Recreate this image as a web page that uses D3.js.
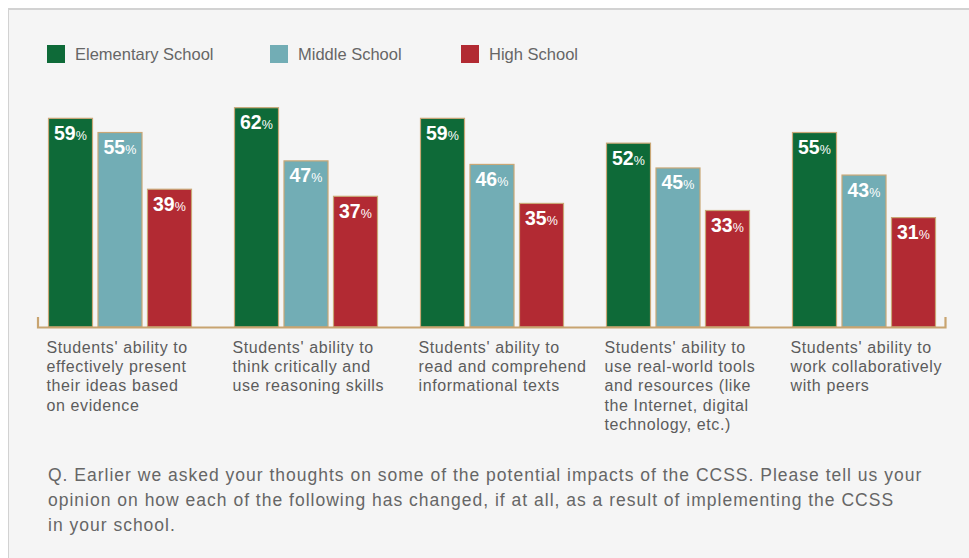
<!DOCTYPE html>
<html>
<head>
<meta charset="utf-8">
<script src="https://cdn.jsdelivr.net/npm/d3@7/dist/d3.min.js"></script>
<style>
  html, body { margin: 0; padding: 0; background: #ffffff; }
  svg { display: block; }
  text { font-family: "Liberation Sans", Arial, sans-serif; }
</style>
</head>
<body>
<svg id="chart" width="969" height="558"></svg>
<script>
// Survey results: share of respondents reporting improvement, by school level
const categories = [
  "Students' ability to|effectively present|their ideas based|on evidence",
  "Students' ability to|think critically and|use reasoning skills",
  "Students' ability to|read and comprehend|informational texts",
  "Students' ability to|use real-world tools|and resources (like|the Internet, digital|technology, etc.)",
  "Students' ability to|work collaboratively|with peers"
];
const seriesNames = ["Elementary School", "Middle School", "High School"];
const elementary = [59, 62, 59, 52, 55];
const middle = [55, 47, 46, 45, 43];
const high = [39, 37, 35, 33, 31];
const footnoteLines = [
  "Q. Earlier we asked your thoughts on some of the potential impacts of the CCSS. Please tell us your",
  "opinion on how each of the following has changed, if at all, as a result of implementing the CCSS",
  "in your school."
];

const seriesValues = [elementary, middle, high];
const colors = ["#0e6a38", "#72adb5", "#b22a33"];
const barStroke = "#c9a776";
const axisColor = "#c8a470";
const textColor = "#5c5c5c";

const svg = d3.select("#chart");

// Panel background
svg.append("rect").attr("x", 8).attr("y", 8).attr("width", 980).attr("height", 570)
  .attr("fill", "#f5f5f5");
svg.append("line").attr("x1", 8).attr("x2", 969).attr("y1", 9).attr("y2", 9)
  .attr("stroke", "#d2d2d2").attr("stroke-width", 2);
svg.append("line").attr("x1", 8.5).attr("x2", 8.5).attr("y1", 8).attr("y2", 558)
  .attr("stroke", "#d2d2d2").attr("stroke-width", 1);

// Scales
const x0 = d3.scaleBand().domain(d3.range(categories.length))
  .range([48, 936]).paddingInner(42 / 186).paddingOuter(0);
const x1 = d3.scaleBand().domain(d3.range(seriesNames.length))
  .range([0, x0.bandwidth()]).paddingInner(4.5 / 49.5).paddingOuter(0);
const y = d3.scaleLinear().domain([0, 100]).range([327, -27.5]);

// Legend
const legendX = [47, 270, 461];
const legend = svg.append("g");
seriesNames.forEach((name, i) => {
  legend.append("rect").attr("x", legendX[i]).attr("y", 45).attr("width", 18).attr("height", 18)
    .attr("fill", colors[i]);
  legend.append("text").attr("x", legendX[i] + 28).attr("y", 60)
    .attr("font-size", 16.5).attr("fill", "#666").text(name);
});

// Bars
const groups = svg.append("g").selectAll("g")
  .data(categories).join("g")
  .attr("transform", (d, i) => `translate(${x0(i)},0)`);

groups.each(function (cat, ci) {
  const g = d3.select(this);
  seriesValues.forEach((vals, si) => {
    const v = vals[ci];
    const bx = x1(si);
    g.append("rect")
      .attr("x", bx + 0.5).attr("y", y(v) + 0.5)
      .attr("width", x1.bandwidth() - 1).attr("height", y(0) - y(v) - 0.5)
      .attr("fill", colors[si]).attr("stroke", barStroke).attr("stroke-width", 1.2);
    const t = g.append("text").attr("x", bx + 6).attr("y", y(v) + 22)
      .attr("fill", "#fff").attr("font-weight", "bold");
    t.append("tspan").attr("font-size", 19.5).text(v);
    t.append("tspan").attr("font-size", 12.5).attr("font-weight", "normal").text("%");
  });
});

// Baseline axis with end ticks
const axis = svg.append("g").attr("fill", "none").attr("stroke", axisColor).attr("stroke-width", 2.2);
axis.append("path").attr("d", `M38,317 V${y(0) + 0.5} H945.5 V317`);

// Category labels
groups.append("text")
  .attr("x", -1.5).attr("y", 353)
  .attr("font-size", 16).attr("letter-spacing", 0.6).attr("fill", textColor)
  .selectAll("tspan").data(d => d.split("|")).join("tspan")
  .attr("x", -1.5).attr("dy", (d, i) => i === 0 ? 0 : 19.2)
  .text(d => d);

// Footnote
svg.append("text").attr("x", 48).attr("y", 481)
  .attr("font-size", 17.5).attr("letter-spacing", 1.0).attr("fill", "#666")
  .selectAll("tspan").data(footnoteLines).join("tspan")
  .attr("x", 48).attr("dy", (d, i) => i === 0 ? 0 : 25)
  .text(d => d);
</script>
</body>
</html>
